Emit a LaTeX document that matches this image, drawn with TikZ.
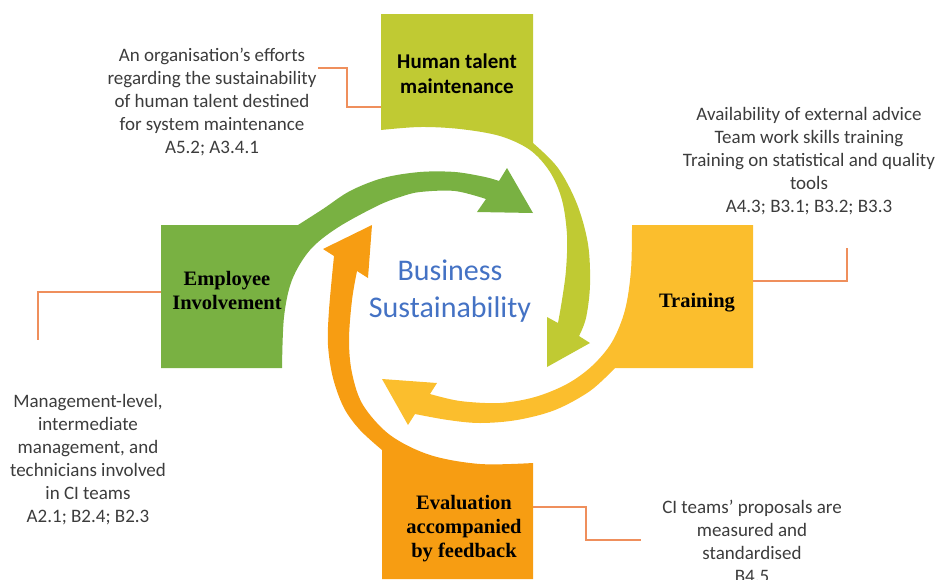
\documentclass[tikz,border=0pt]{standalone}
\usepackage{fontspec}
\setmainfont{Carlito}
\newfontfamily\serifb{Liberation Serif}
\definecolor{cgreen}{RGB}{121,177,66}
\definecolor{clime}{RGB}{192,202,51}
\definecolor{cyellow}{RGB}{251,190,45}
\definecolor{corange}{RGB}{247,157,18}
\definecolor{cline}{RGB}{239,143,92}
\definecolor{cblue}{RGB}{68,114,196}
\definecolor{ctext}{RGB}{60,60,60}
\begin{document}
\begin{tikzpicture}[x=1pt,y=-1pt,
  desc/.style={align=center, text=ctext, font=\fontsize{19}{23}\selectfont, inner sep=0pt},
  lbl/.style={align=center, text=black, font=\serifb\bfseries\fontsize{20.5}{24}\selectfont, inner sep=0pt},
  conn/.style={draw=cline, line width=1.8pt},
  sm/.style={smooth, tension=0.55}]
\useasboundingbox (0,0) rectangle (940,579);
\clip (0,0) rectangle (940,579);

% Employee Involvement (green)
\fill[cgreen] (161,225) -- (298,225)
  -- plot[sm] coordinates {(298,225) (323,209) (350,191) (383,178) (420,172) (455,172) (485,177) (499,181)}
  -- (507,168) -- (533,213) -- (477,212)
  -- plot[sm] coordinates {(486,199) (455,191) (420,192) (400,197) (377,206) (337,228) (310,250) (292,280) (284,317) (282,368)}
  -- (161,368) -- cycle;

% Human talent maintenance (lime)
\fill[clime] (381,14) -- (533,14) -- (533,143)
  -- plot[sm] coordinates {(533,143) (558,168) (577,204) (588,244) (590,285) (586,318) (579,336)}
  -- (590,343) -- (547,367) -- (547,317)
  -- plot[sm] coordinates {(558,323) (562,300) (566,270) (567,235) (562,200) (550,172) (530,150) (500,136) (460,129) (420,127) (381,130)}
  -- cycle;

% Training (yellow)
\fill[cyellow] (632,225) -- (753,225) -- (753,368) -- (615,368)
  -- plot[sm] coordinates {(615,368) (590,391) (555,410) (517,420) (480,423) (448,420) (415,414)}
  -- (408,425) -- (382,379) -- (437,383)
  -- plot[sm] coordinates {(430,394) (460,401) (500,403) (535,397) (567,384) (592,366) (612,342) (625,310) (631,270) (632,225)}
  -- cycle;

% Evaluation (orange)
\fill[corange] (382,579) -- (382,450)
  -- plot[sm] coordinates {(382,450) (360,430) (344,408) (333,378) (328,345) (329,310) (334,256)}
  -- (323,249) -- (372,225) -- (368,278)
  -- plot[sm] coordinates {(357,271) (352,300) (349,340) (352,373) (363,405) (390,435) (430,455) (480,464) (533,463)}
  -- (533,579) -- cycle;

% labels
\node[align=center, text=black, font=\bfseries\fontsize{21}{25}\selectfont, inner sep=0pt] (lht) at (457,74) {Human talent\\maintenance};
\node[lbl] (lei) at (227,290) {Employee\\Involvement};
\node[lbl] (ltr) at (697,303) {Training};
\node[lbl] (lev) at (464,529) {Evaluation\\accompanied\\by feedback};
\node[align=center, text=cblue, font=\fontsize{30}{37}\selectfont, inner sep=0pt] (lbs) at (450,291) {Business\\Sustainability};

% descriptions
\node[desc] (t1) at (212,102) {An organisation’s efforts\\regarding the sustainability\\of human talent destined\\for system maintenance\\A5.2; A3.4.1};
\node[desc] (t2) at (809,161) {Availability of external advice\\Team work skills training\\Training on statistical and quality\\tools\\A4.3; B3.1; B3.2; B3.3};
\node[desc] (t3) at (88,460) {Management-level,\\intermediate\\management, and\\technicians involved\\in CI teams\\A2.1; B2.4; B2.3};
\node[desc] (t4) at (752,541) {CI teams’ proposals are\\measured and\\standardised\\B4.5};

% connectors
\coordinate (c1a) at (318,68); \coordinate (c1m) at (347,87); \coordinate (c1b) at (381,107);
\coordinate (c2a) at (753,281); \coordinate (c2b) at (847,248);
\coordinate (c3a) at (161,292); \coordinate (c3b) at (38,340);
\coordinate (c4a) at (533,507); \coordinate (c4m) at (586,523); \coordinate (c4b) at (641,540);
\draw[conn] (c1a) -| (c1m) |- (c1b);
\draw[conn] (c2a) -| (c2b);
\draw[conn] (c3a) -| (c3b);
\draw[conn] (c4a) -| (c4m) |- (c4b);
\end{tikzpicture}
\end{document}
